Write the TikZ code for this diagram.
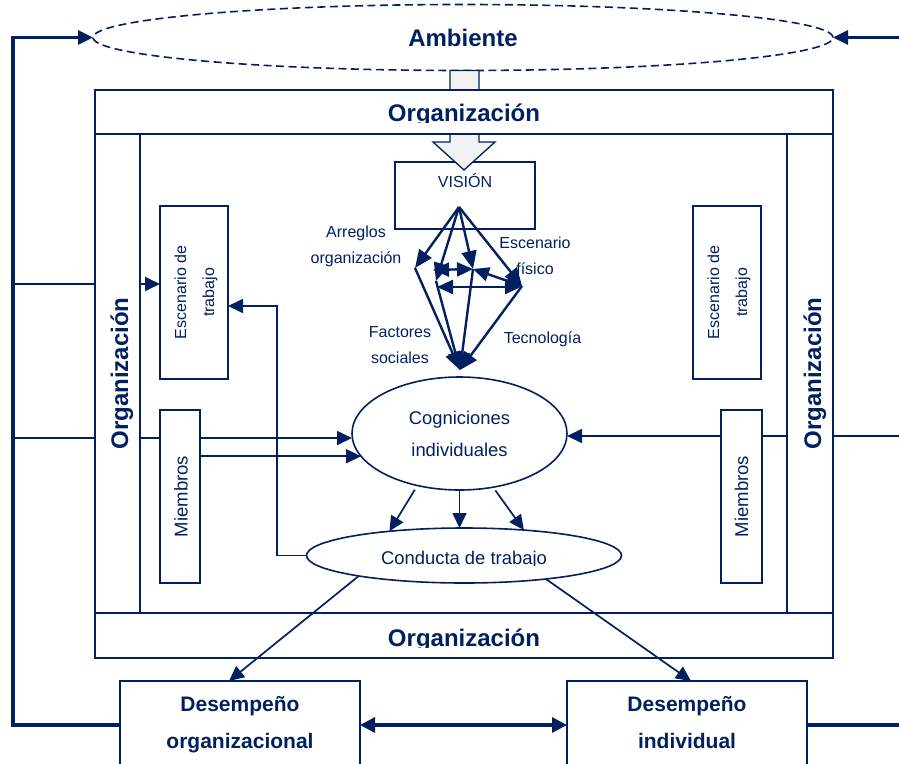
\documentclass[tikz,border=0pt]{standalone}
\usepackage{fontspec}
\setmainfont{Liberation Sans}
\usetikzlibrary{arrows.meta,calc,shapes.geometric}
\definecolor{navy}{HTML}{002060}
\definecolor{shaftgrey}{HTML}{F2F2F2}
\pgfdeclarelayer{under}
\pgfsetlayers{under,main}
\newcommand{\setfs}[2]{\fontsize{#1}{#2}\selectfont}

\begin{document}
\begin{tikzpicture}[x=1pt,y=-1pt,
  every node/.style={text=navy, inner sep=0pt, outer sep=0pt},
  panel/.style={draw=navy, line width=1.5pt, fill=white, anchor=north west},
  bigbold/.style={font=\setfs{24}{28}\bfseries},
  lab/.style={font=\setfs{16}{26.5}, align=center},
  wire/.style={draw=navy, line width=1.7pt},
  heavy/.style={draw=navy, line width=3.2pt, line join=miter},
  tip/.style={-{Triangle[length=15pt,width=14pt]}},
  twotip/.style={{Triangle[length=15pt,width=15pt]}-{Triangle[length=15pt,width=15pt]}},
  ray/.style={draw=navy, line width=2.4pt, -{Triangle[length=18pt,width=15pt]}},
  rayboth/.style={draw=navy, line width=2.4pt, {Triangle[length=16pt,width=14pt]}-{Triangle[length=16pt,width=14pt]}}
]
\useasboundingbox (0,0) rectangle (899,763);

% environment
\node[ellipse, draw=navy, line width=1.6pt, dash pattern=on 8pt off 4.5pt,
      minimum width=740pt, minimum height=66pt, bigbold] (amb) at (463,37.5) {Ambiente};

% vision box
\node[panel, minimum width=140pt, minimum height=67pt] (vision) at (395,162) {};
\node[font=\setfs{16}{20}, anchor=base] (visionTxt) at (465,187.3) {VISIÓN};

% broad grey arrow from the environment down to the vision
\filldraw[fill=shaftgrey, draw=navy, line width=1.3pt, line join=miter]
  (450,70.5) -- (450,142) -- (433,142) -- (464,170) -- (495,142) -- (479,142) -- (479,70.5) -- cycle;

% organisation frame
\node[panel, minimum width=738pt, minimum height=44pt] (orgTop) at (95,90) {};
\node[panel, minimum width=45pt, minimum height=479pt] (orgLeft) at (95,134) {};
\node[panel, minimum width=46pt, minimum height=479pt] (orgRight) at (787,134) {};
\node[panel, minimum width=738pt, minimum height=45pt] (orgBot) at (95,613) {};

\begin{scope}
  \clip (95,90) rectangle (833,122.5);
  \node[bigbold, anchor=base] (orgTopTxt) at (464,121.5) {Organización};
\end{scope}
\begin{scope}
  \clip (95,613) rectangle (833,647);
  \node[bigbold, anchor=base] (orgBotTxt) at (464,646) {Organización};
\end{scope}
\node[bigbold, anchor=base, rotate=90] (orgLeftTxt) at (128,373.5) {Organización};
\node[bigbold, anchor=base, rotate=90] (orgRightTxt) at (821,373.5) {Organización};

% work setting and members
\node[panel, minimum width=68pt, minimum height=173pt] (escL) at (160,206) {};
\node[panel, minimum width=68pt, minimum height=173pt] (escR) at (693,206) {};
\node[rotate=90, font=\setfs{16}{28}, align=center] (escLTxt) at ($(escL.center)+(2,0)$) {Escenario de\\trabajo};
\node[rotate=90, font=\setfs{16}{28}, align=center] (escRTxt) at ($(escR.center)+(2,0)$) {Escenario de\\trabajo};

\node[panel, minimum width=40pt, minimum height=173pt] (miemL) at (160,410) {};
\node[panel, minimum width=41pt, minimum height=173pt] (miemR) at (721,410) {};
\node[rotate=90, font=\setfs{18.5}{22}] (miemLTxt) at ($(miemL.center)+(1,0)$) {Miembros};
\node[rotate=90, font=\setfs{18.5}{22}] (miemRTxt) at (miemR.center) {Miembros};

% cognitions and behaviour
\node[ellipse, draw=navy, line width=1.6pt, fill=white, minimum width=215pt, minimum height=113pt,
      align=center, font=\setfs{18.4}{32}] (cog) at (459.5,433.5) {Cogniciones\\individuales};
\node[ellipse, draw=navy, line width=1.6pt, fill=white, minimum width=315pt, minimum height=55pt] (cond) at (464,555.5) {};
\begin{scope}
  \clip (300,520) rectangle (630,565);
  \node[font=\setfs{18.4}{22}, anchor=base] (condTxt) at (464,564.3) {Conducta de trabajo};
\end{scope}

% performance
\node[panel, minimum width=240pt, minimum height=88pt, align=center, font=\setfs{21}{37}\bfseries]
  (desOrg) at (120,681) {Desempeño\\organizacional};
\node[panel, minimum width=240pt, minimum height=88pt, align=center, font=\setfs{21}{37}\bfseries]
  (desInd) at (567,681) {Desempeño\\individual\vphantom{g}};

% outer feedback lines, drawn beneath the frame and boxes
\coordinate (cornerBL) at (13,725);
\coordinate (cornerTL) at (13,37.5);
\coordinate (edgeR1) at (899,37.5);
\coordinate (edgeR2) at (899,436);
\coordinate (edgeR3) at (899,725);
\coordinate (tapL1) at (13,284);
\coordinate (tapL2) at (13,438);
\begin{pgfonlayer}{under}
  \draw[heavy, tip] (desOrg.west) -- (cornerBL) -- (cornerTL) -- (amb.west);
  \draw[heavy, tip] (edgeR1) -- (amb.east);
  \draw[heavy] (desInd.east) -- (edgeR3);
  \draw[wire, tip] (tapL1) -- (tapL1 -| escL.west);
  \draw[wire, tip] (tapL2) -- (tapL2 -| cog.west);
  \draw[wire, tip] (miemL.east |- cog.193) -- (cog.193);
  \draw[wire, tip] (edgeR2) -- (edgeR2 -| cog.east);
\end{pgfonlayer}

% labels of the vision network
\node[lab] (lblArr) at (356,246.5) {Arreglos\\organización};
\node[lab] (lblEsc) at (535,256) {Escenario\\físico};
\node[lab] (lblFac) at (400,345) {Factores\\sociales};
\node[lab] (lblTec) at (542.5,339) {Tecnología};

% vision network
\coordinate (nV) at (459,207);
\coordinate (nA) at (415,268);
\coordinate (nF) at (436,281);
\coordinate (nFa) at (433,270);
\coordinate (nC) at (473,269);
\coordinate (nE) at (522,286);
\coordinate (nFb) at (437,287);
\coordinate (nEb) at (521,287);
\coordinate (nB) at (460,370);
\draw[ray] (nV) -- (nA);
\draw[ray] (nV) -- (nF);
\draw[ray] (nV) -- (nC);
\draw[ray] (nV) -- (nE);
\draw[rayboth] (nFa) -- (nC);
\draw[rayboth] (nC) -- (nE);
\draw[rayboth] (nFb) -- (nEb);
\draw[ray] (nA) -- (nB);
\draw[ray] (nF) -- (nB);
\draw[ray] (nC) -- (nB);
\draw[ray] (nE) -- (nB);

% cognition to behaviour
\draw[wire, tip, shorten <=5pt] (cog.231) -- (cond.162);
\draw[wire, tip] (cog.south) -- (cog.south |- cond.north);
\draw[wire, tip, shorten <=4pt] (cog.302) -- (cond.23);

% behaviour back to the work setting
\coordinate (bendFB) at (277,306);
\draw[wire, tip] (cond.west) -| (bendFB) -- (bendFB -| escL.east);

% behaviour to performance
\draw[wire, tip] (cond.191) -- ($(desOrg.north)+(-11,0)$);
\draw[wire, tip] (cond.344) -- ($(desInd.north)+(4,0)$);
\draw[heavy, twotip] (desOrg.east) -- (desInd.west);
\end{tikzpicture}
\end{document}
